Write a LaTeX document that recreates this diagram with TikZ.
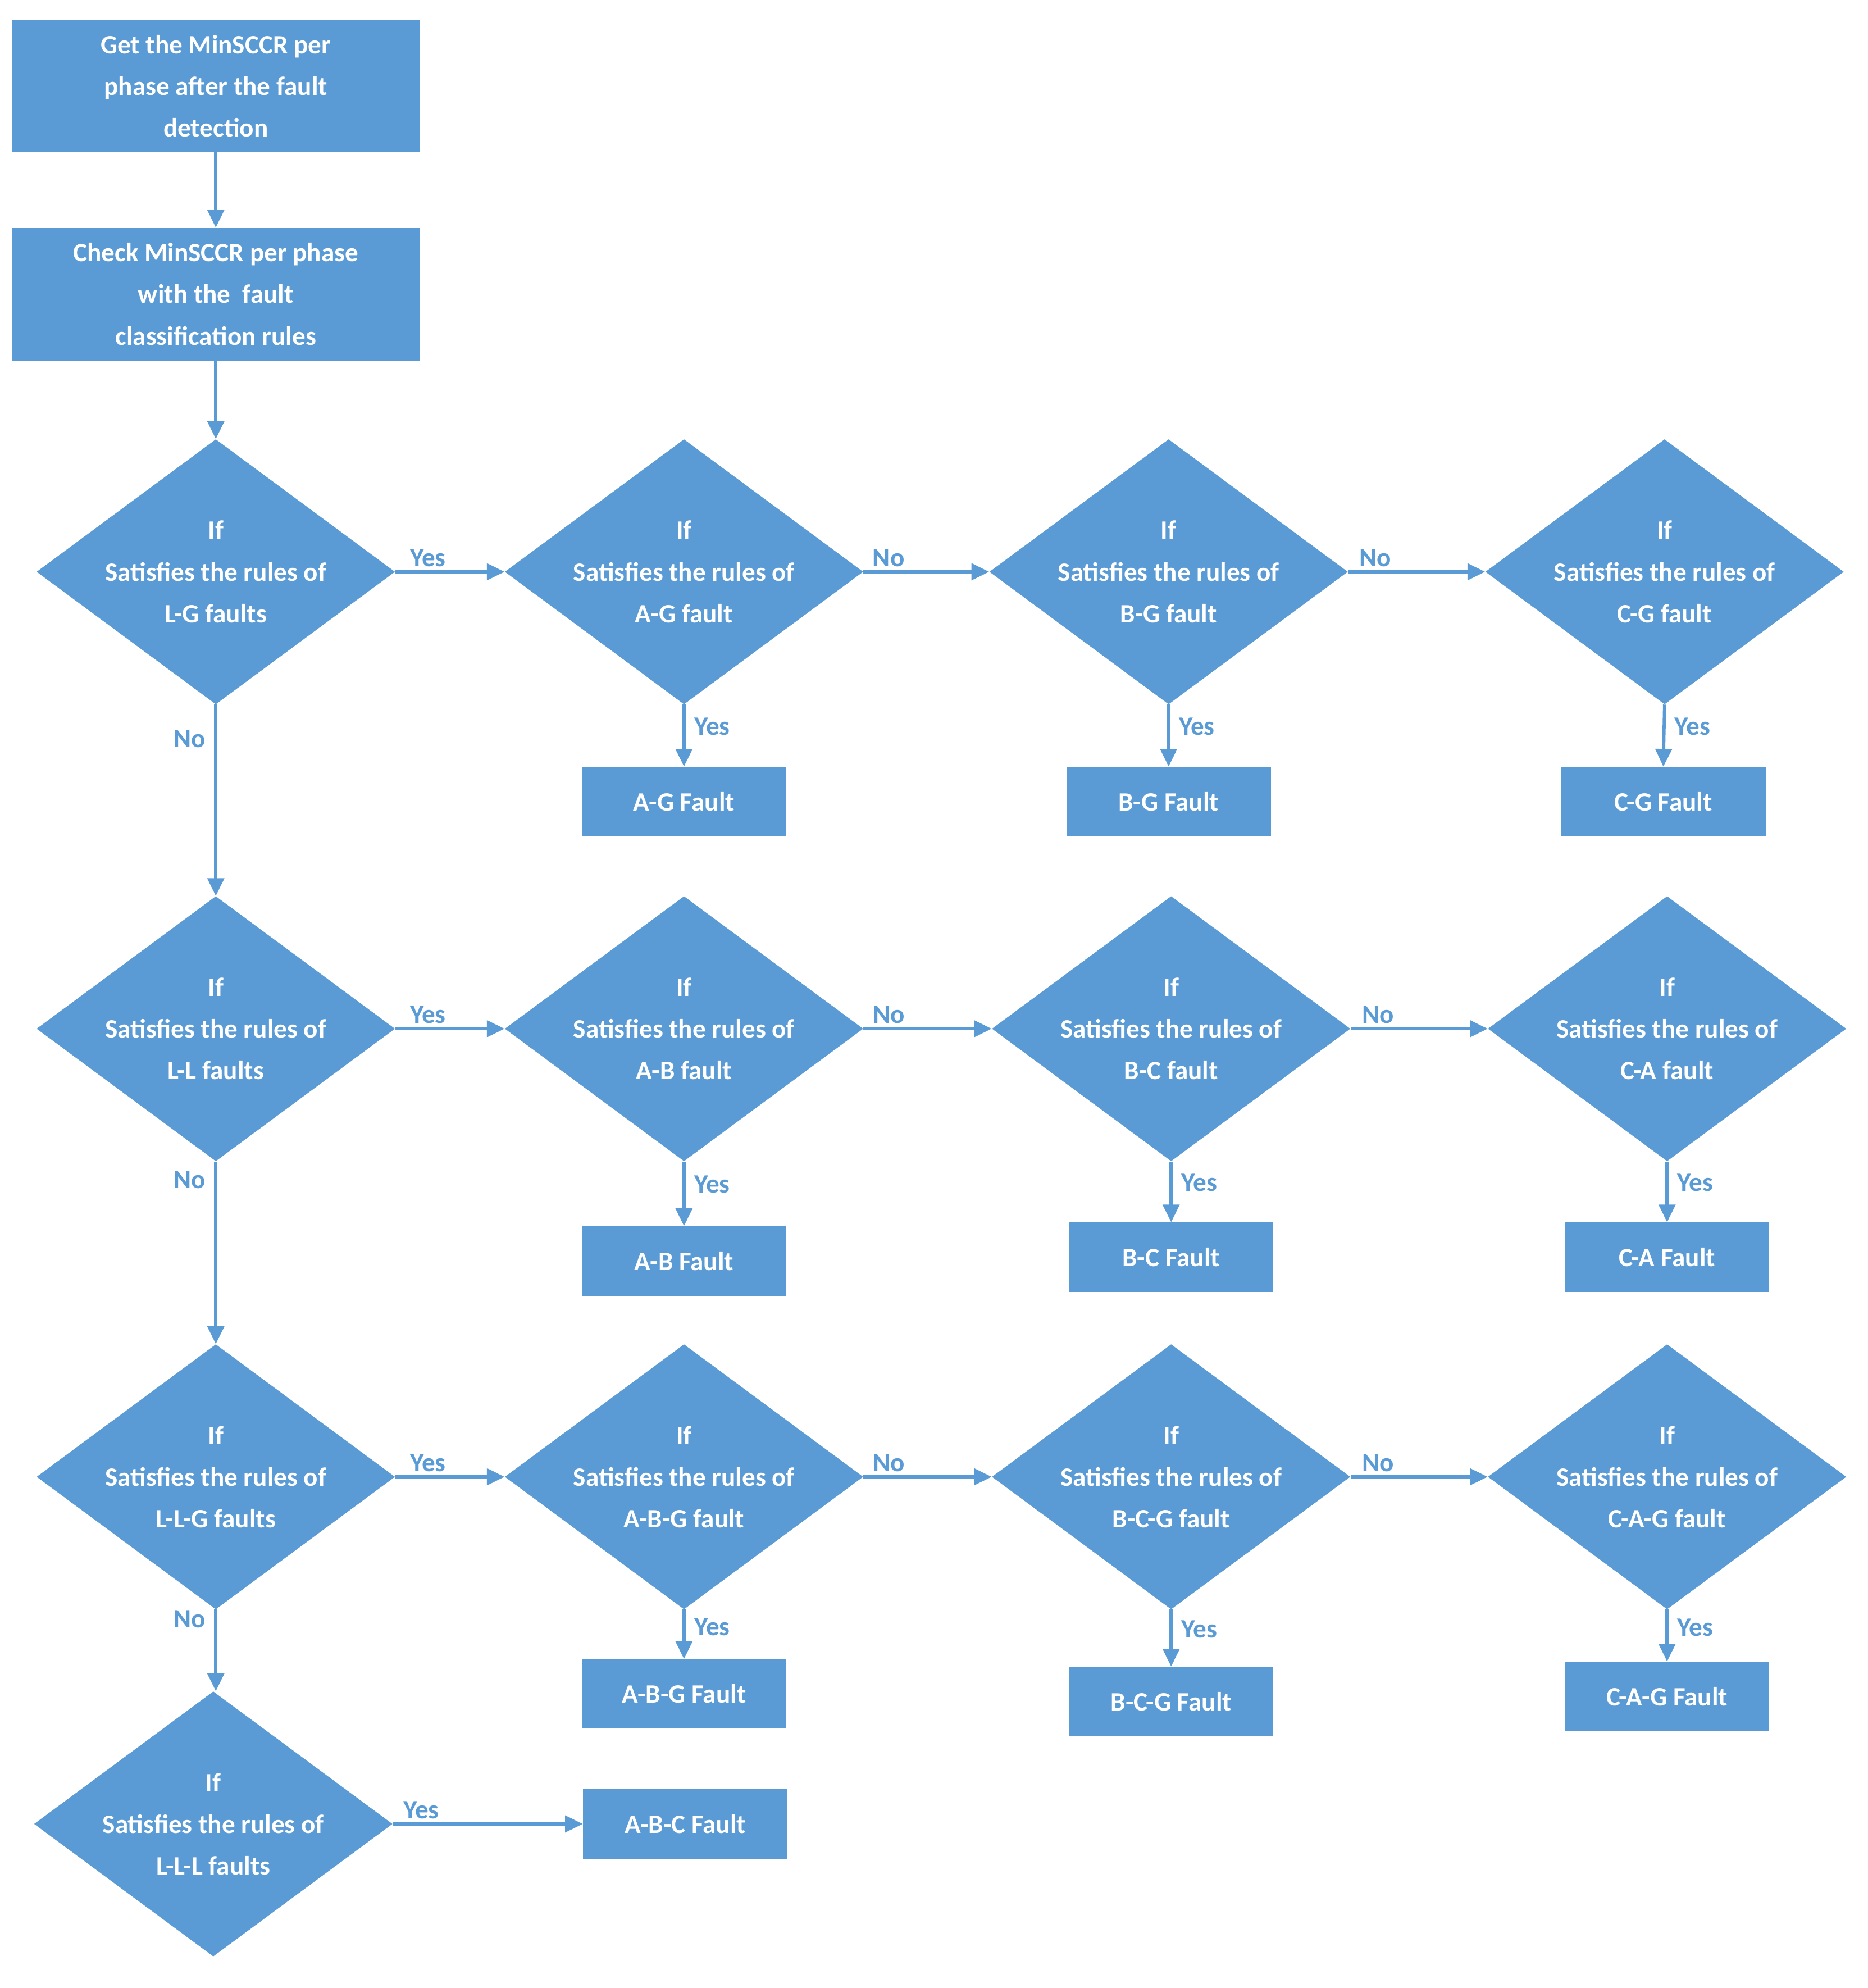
\documentclass[tikz,border=0pt]{standalone}
\usepackage{fontspec}
\setmainfont{Carlito}
\usetikzlibrary{shapes.geometric,arrows.meta}
\definecolor{bl}{HTML}{5B9BD5}
\tikzset{
 box/.style={fill=bl,draw=none,minimum width=323pt,minimum height=105pt,align=center,text=white,font=\fontsize{21}{33}\selectfont\bfseries},
 fbox/.style={fill=bl,draw=none,minimum width=162pt,minimum height=55pt,align=center,text=white,font=\fontsize{21}{33}\selectfont\bfseries},
 dia/.style={diamond,fill=bl,draw=none,minimum width=284pt,minimum height=210pt,inner sep=0pt},
 dtxt/.style={align=center,text=white,font=\fontsize{21}{33}\selectfont\bfseries},
 arr/.style={draw=bl,line width=2.5pt,-{Triangle[length=14pt,width=13pt]}},
 lab/.style={text=bl,font=\fontsize{21}{25}\selectfont\bfseries,inner sep=3pt},
}
\newcommand{\dnode}[4]{\node[dia] (#1) at (#2) {}; \node[dtxt] at (#1) {If\\Satisfies the rules of\\#3};}
\begin{document}
\begin{tikzpicture}[x=1pt,y=-1pt]
\useasboundingbox (0,0) rectangle (1480,1575);
\node[box] (b1) at (171,68) {Get the MinSCCR per\\phase after the fault\\detection};
\node[box] (b2) at (171,233) {Check MinSCCR per phase\\with the\ \ fault\\classification rules};
% row 1
\dnode{dAa}{171,453}{L-G faults}{}
\dnode{dAb}{542,453}{A-G fault}{}
\dnode{dAc}{926,453}{B-G fault}{}
\dnode{dAd}{1319,453}{C-G fault}{}
\node[fbox] (fAb) at (542,635) {A-G Fault};
\node[fbox] (fAc) at (926,635) {B-G Fault};
\node[fbox] (fAd) at (1318,635) {C-G Fault};
% row 2
\dnode{dBa}{171,815}{L-L faults}{}
\dnode{dBb}{542,815}{A-B fault}{}
\dnode{dBc}{928,815}{B-C fault}{}
\dnode{dBd}{1321,815}{C-A fault}{}
\node[fbox] (fBb) at (542,999) {A-B Fault};
\node[fbox] (fBc) at (928,996) {B-C Fault};
\node[fbox] (fBd) at (1321,996) {C-A Fault};
% row 3
\dnode{dCa}{171,1170}{L-L-G faults}{}
\dnode{dCb}{542,1170}{A-B-G fault}{}
\dnode{dCc}{928,1170}{B-C-G fault}{}
\dnode{dCd}{1321,1170}{C-A-G fault}{}
\node[fbox] (fCb) at (542,1342) {A-B-G Fault};
\node[fbox] (fCc) at (928,1348) {B-C-G Fault};
\node[fbox] (fCd) at (1321,1344) {C-A-G Fault};
% row 4
\dnode{dDa}{169,1445}{L-L-L faults}{}
\node[fbox] (fDb) at (543,1445) {A-B-C Fault};
% connectors
\draw[arr] (b1) -- (b2);
\draw[arr] (b2) -- (dAa.north);
\foreach \rw in {A,B,C}{
 \draw[arr] (d\rw a.east) -- node[lab,pos=0.3,above]{Yes} (d\rw b.west);
 \draw[arr] (d\rw b.east) -- node[lab,pos=0.2,above]{No} (d\rw c.west);
 \draw[arr] (d\rw c.east) -- node[lab,pos=0.2,above]{No} (d\rw d.west);
 \foreach \cl in {b,c,d}{
  \draw[arr] (d\rw\cl.south) -- node[lab,pos=0.35,right,xshift=4pt]{Yes} (f\rw\cl.north);
 }
}
\draw[arr] (dAa.south) -- node[lab,pos=0.18,left,xshift=-4pt]{No} (dBa.north);
\draw[arr] (dBa.south) -- node[lab,pos=0.1,left,xshift=-4pt]{No} (dCa.north);
\draw[arr] (dCa.south) -- node[lab,pos=0.12,left,xshift=-4pt]{No} (dDa.north -| dCa.south);
\draw[arr] (dDa.east) -- node[lab,pos=0.15,above]{Yes} (fDb.west);
\end{tikzpicture}
\end{document}
